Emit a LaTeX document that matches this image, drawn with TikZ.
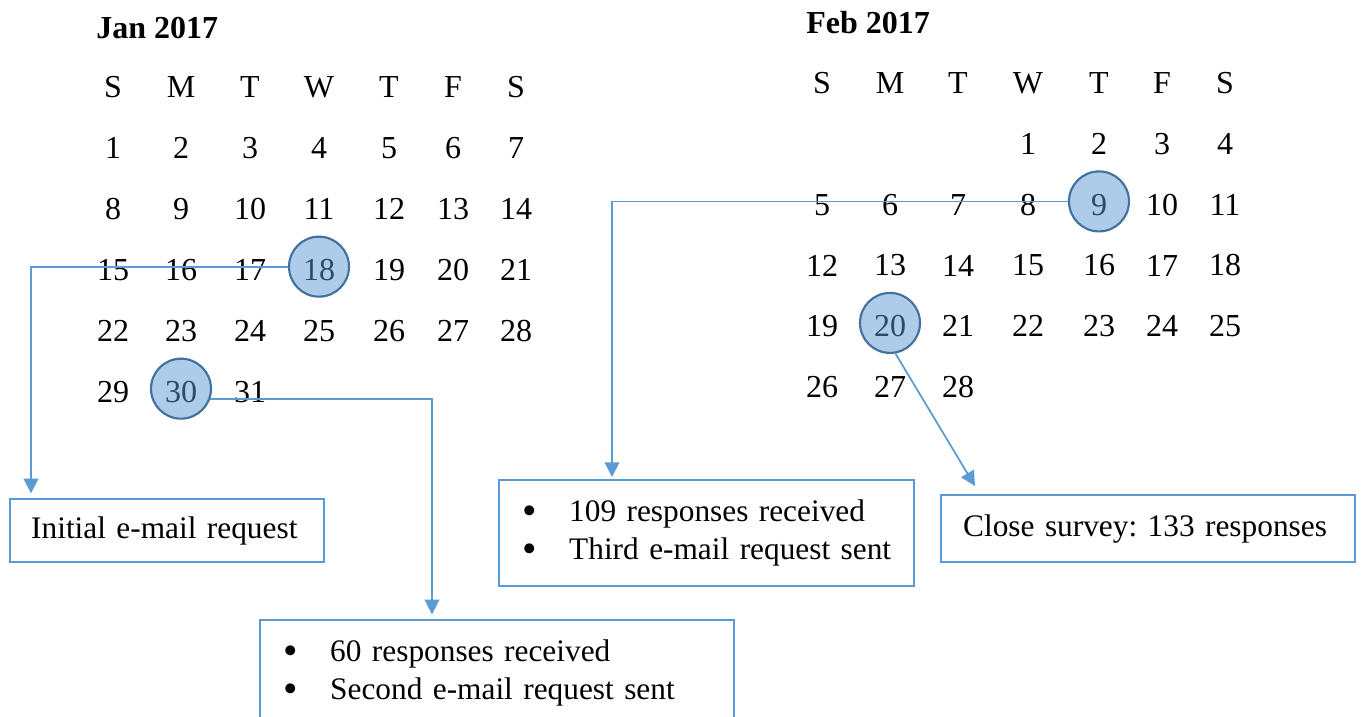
\documentclass[tikz,border=0pt]{standalone}
\usepackage{fontspec}
\setmainfont{Liberation Serif}
\usetikzlibrary{arrows.meta,calc,positioning,backgrounds}
\definecolor{Line}{HTML}{5B9BD5}
\definecolor{Ring}{HTML}{41719C}
\definecolor{RingFill}{HTML}{AECBEA}
\definecolor{RingText}{HTML}{2E4A66}
\tikzset{day/.style={inner sep=0pt,font=\fontsize{24}{29}\selectfont},title/.style={inner sep=0pt,anchor=base west,font=\bfseries\fontsize{24}{29}\selectfont},ring/.style={circle,draw=Ring,fill=RingFill,line width=1.6pt,minimum size=45pt,inner sep=0pt},note/.style={draw=Line,line width=1.8pt,anchor=north west,align=left,inner ysep=0pt,font=\fontsize{23.5}{28.5}\selectfont\frenchspacing},flow/.style={-{Triangle[length=11pt,width=11pt]},draw=Line,line width=1.3pt,shorten >=3.5pt},jan18/.style={text=RingText},jan30/.style={text=RingText},feb9/.style={text=RingText},feb20/.style={text=RingText}}
\newcommand{\bul}[1]{\mbox{\makebox[35.25pt][l]{\raisebox{-2pt}{\fontsize{31}{31}\selectfont\textbullet}}#1}}

\begin{document}
\begin{tikzpicture}[x=0.75pt,y=-0.75pt]
  \useasboundingbox (0,0) rectangle (1361,717);
  % January
  \node[title](jan) at (96,39){Jan 2017};
  \foreach \c/\l/\x in {0/S/113,1/M/181,2/T/250,3/W/319,4/T/389,5/F/453,6/S/516}
    \node[day](janh\c) at (\x,87){\l};
  \foreach \d in {1,...,31}{
    \pgfmathtruncatemacro\col{mod(\d-1,7)}
    \pgfmathtruncatemacro\row{(\d-1)/7}
    \pgfmathsetmacro\y{148+61*\row}
    \node[day,jan\d/.try](j\d) at (janh\col |- 0,\y){\d};
  }
  % February
  \node[title](feb) at (806,34){Feb 2017};
  \foreach \c/\l/\x in {0/S/822,1/M/890,2/T/958,3/W/1028,4/T/1099,5/F/1162,6/S/1225}
    \node[day](febh\c) at (\x,83){\l};
  \foreach \d in {1,...,28}{
    \pgfmathtruncatemacro\col{mod(\d+2,7)}
    \pgfmathtruncatemacro\row{(\d+2)/7}
    \pgfmathsetmacro\y{144+60.75*\row}
    \node[day,feb\d/.try](f\d) at (febh\col |- 0,\y){\d};
  }
  % marked days
  \begin{scope}[on background layer]
    \node[ring](c18) at ([yshift=2.5pt]j18){};
    \node[ring](c30) at ([yshift=2.5pt]j30){};
    \node[ring](c9) at ([yshift=2.5pt]f9){};
    \node[ring](c20) at ([yshift=2.5pt]f20){};
  \end{scope}
  % notes
  \node[note,minimum width=235.5pt,minimum height=47.25pt,text width=204pt,inner xsep=15.75pt](box1) at (9,498){\mbox{Initial e-mail request}};
  \node[note,minimum width=355.5pt,minimum height=79.5pt,text width=321pt,inner xsep=17.25pt](box2) at (259,619){\bul{60 responses received}\\\bul{Second e-mail request sent}};
  \node[note,minimum width=311.25pt,minimum height=79.5pt,text width=276.75pt,inner xsep=17.25pt](box3) at (498,479){\bul{109 responses received}\\\bul{Third e-mail request sent}};
  \node[note,minimum width=310.5pt,minimum height=50.25pt,text width=277.5pt,inner xsep=16.5pt](box4) at (940,494){\mbox{Close survey: 133 responses}};
  % connectors
  \coordinate (k1) at (31,0);
  \coordinate (k2) at (432,0);
  \coordinate (k3) at (612,0);
  \coordinate (k4) at (975,486);
  \draw[flow](c18.west) -| (k1 |- box1.north);
  \draw[flow](c30.-20) -| (k2 |- box2.north);
  \draw[flow,shorten >=1.5pt](c9.west) -| (k3 |- box3.north);
  \draw[flow,shorten >=0pt](c20.-80) -- (k4);
\end{tikzpicture}
\end{document}
